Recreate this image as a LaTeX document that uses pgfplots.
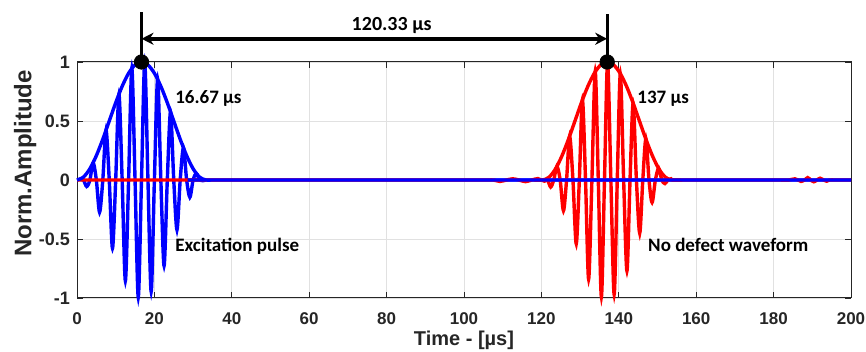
\documentclass[border=0pt]{standalone}
\usepackage{pgfplots}
\pgfplotsset{compat=1.18}
\usepackage{fontspec}
\setmainfont{Liberation Sans}
\newfontfamily\calibri{Carlito}
\usetikzlibrary{arrows.meta}
\definecolor{axgray}{RGB}{38,38,38}
\definecolor{gridgray}{RGB}{225,225,225}
\begin{document}
\begin{tikzpicture}
\path[use as bounding box] (-38.5pt,-27pt) rectangle (394.5pt,149pt);
\begin{axis}[
  at={(0,0)}, anchor=south west,
  scale only axis, width=387pt, height=118pt,
  xmin=0, xmax=200, ymin=-1, ymax=1,
  xtick={0,20,...,200}, ytick={-1,-0.5,0,0.5,1},
  grid=major, major grid style={gridgray, line width=0.4pt},
  axis line style={axgray, line width=0.5pt},
  tick style={axgray, line width=0.4pt}, tick align=inside, major tick length=3pt,
  /pgf/number format/assume math mode=true,
  xticklabel style={font=\bfseries\fontsize{8.5}{9}\selectfont, text=axgray, yshift=-4pt},
  yticklabel style={font=\bfseries\fontsize{9}{10}\selectfont, text=axgray},
  xlabel={Time - [µs]},
  xlabel style={font=\bfseries\fontsize{10}{11}\selectfont, text=axgray, yshift=4pt},
  ylabel={Norm.Amplitude},
  ylabel style={font=\bfseries\fontsize{12}{13}\selectfont, text=axgray, at={(axis description cs:-0.067,0.57)}, anchor=center},
  clip=false,
]
% blue excitation pulse
\addplot[blue, line width=1.7pt, smooth] coordinates {
(0,0) (0.833,0.006) (1.667,0) (2.5,-0.055) (3.333,0) (4.167,0.146) (5,0) (5.833,-0.273) (6.667,0) (7.5,0.422) (8.333,0) (9.167,-0.578) (10,0) (10.833,0.727) (11.667,0) (12.5,-0.854) (13.333,0) (14.167,0.946) (15,0) (15.833,-0.994) (16.667,0) (17.5,0.994) (18.333,0) (19.167,-0.946) (20,0) (20.833,0.854) (21.667,0) (22.5,-0.727) (23.333,0) (24.167,0.578) (25,0) (25.833,-0.422) (26.667,0) (27.5,0.273) (28.333,0) (29.167,-0.146) (30,0) (30.833,0.055) (31.667,0) (32.5,-0.006) (33.333,0) (35,0) (40,0) (200,0)};
% red no-defect waveform
\addplot[red, line width=1.7pt, smooth] coordinates {
(0,0) (100,0) (106,0) (107.6,0) (109.3,-0.012) (111.0,0) (112.6,0.01) (114.2,0) (115.9,-0.014) (117.5,0) (119.1,0.012) (119.95,0) (120.8,-0.01) (121.6,0)
(122.4,-0.06) (123.2,0) (124.0,0.115) (124.85,0) (125.7,-0.26) (126.5,0) (127.3,0.37) (128.15,0) (129.0,-0.54) (129.8,0) (130.6,0.68) (131.4,0) (132.2,-0.84) (133.05,0) (133.9,0.92) (134.7,0) (135.5,-0.99) (136.3,0) (137.1,1.0) (137.95,0) (138.8,-0.97) (139.6,0) (140.4,0.90) (141.25,0) (142.1,-0.77) (142.9,0) (143.7,0.65) (144.55,0) (145.4,-0.45) (146.2,0) (147.0,0.35) (147.8,0) (148.6,-0.19) (149.45,0) (150.3,0.10) (151.1,0) (151.9,-0.03) (152.7,0) (153.5,0.01) (154.3,0) (160,0) (182,0) (183.9,0) (185.5,0.01) (186.3,0) (187.1,-0.012) (188.0,0) (188.8,0.02) (189.6,0) (190.4,-0.015) (191.2,0) (192.0,0.015) (192.9,0) (193.7,-0.01) (194.5,0) (196,0) (200,0)};
% red envelope
\addplot[red, line width=1.7pt, smooth] coordinates {
(118,0) (120.33,0) (122.0,0.0245) (123.67,0.0955) (125.33,0.2061) (127.0,0.3455) (128.67,0.5) (130.33,0.6545) (132.0,0.7939) (133.67,0.9045) (135.33,0.9755) (137.0,1) (138.67,0.9755) (140.33,0.9045) (142.0,0.7939) (143.67,0.6545) (145.33,0.5) (147.0,0.3455) (148.67,0.2061) (150.33,0.0955) (152.0,0.0245) (153.67,0) (156,0)};
% blue envelope
\addplot[blue, line width=1.7pt, smooth] coordinates {
(0,0) (1.667,0.0245) (3.333,0.0955) (5.0,0.2061) (6.667,0.3455) (8.333,0.5) (10.0,0.6545) (11.667,0.7939) (13.333,0.9045) (15.0,0.9755) (16.667,1) (18.333,0.9755) (20.0,0.9045) (21.667,0.7939) (23.333,0.6545) (25.0,0.5) (26.667,0.3455) (28.333,0.2061) (30.0,0.0955) (31.667,0.0245) (33.333,0) (35,0) (40,0) (200,0)};
% annotation lines
\draw[black, line width=1.5pt] (axis cs:16.67,1) -- (axis cs:16.67,1.42);
\draw[black, line width=1.5pt] (axis cs:137,1) -- (axis cs:137,1.41);
\draw[black, line width=2pt, {Stealth[length=6pt,width=6pt]}-{Stealth[length=6pt,width=6pt]}] (axis cs:16.67,1.197) -- (axis cs:137,1.197);
\addplot[only marks, mark=*, mark size=3.6pt, black] coordinates {(16.67,1) (137,1)};
\node[anchor=base, font=\calibri\bfseries\fontsize{10}{11}\selectfont] at (axis cs:81.3,1.27) {120.33 µs};
\node[anchor=base west, inner sep=0pt, font=\calibri\bfseries\fontsize{9.5}{10}\selectfont] at (axis cs:25.3,0.65) {16.67 µs};
\node[anchor=base west, inner sep=0pt, font=\calibri\bfseries\fontsize{9.5}{10}\selectfont] at (axis cs:144.7,0.65) {137 µs};
\node[anchor=base west, inner sep=0pt, font=\calibri\bfseries\fontsize{9.5}{10}\selectfont] at (axis cs:25.3,-0.607) {Excitation pulse};
\node[anchor=base west, inner sep=0pt, font=\calibri\bfseries\fontsize{9.5}{10}\selectfont] at (axis cs:147.5,-0.607) {No defect waveform};
\end{axis}
\end{tikzpicture}
\end{document}
